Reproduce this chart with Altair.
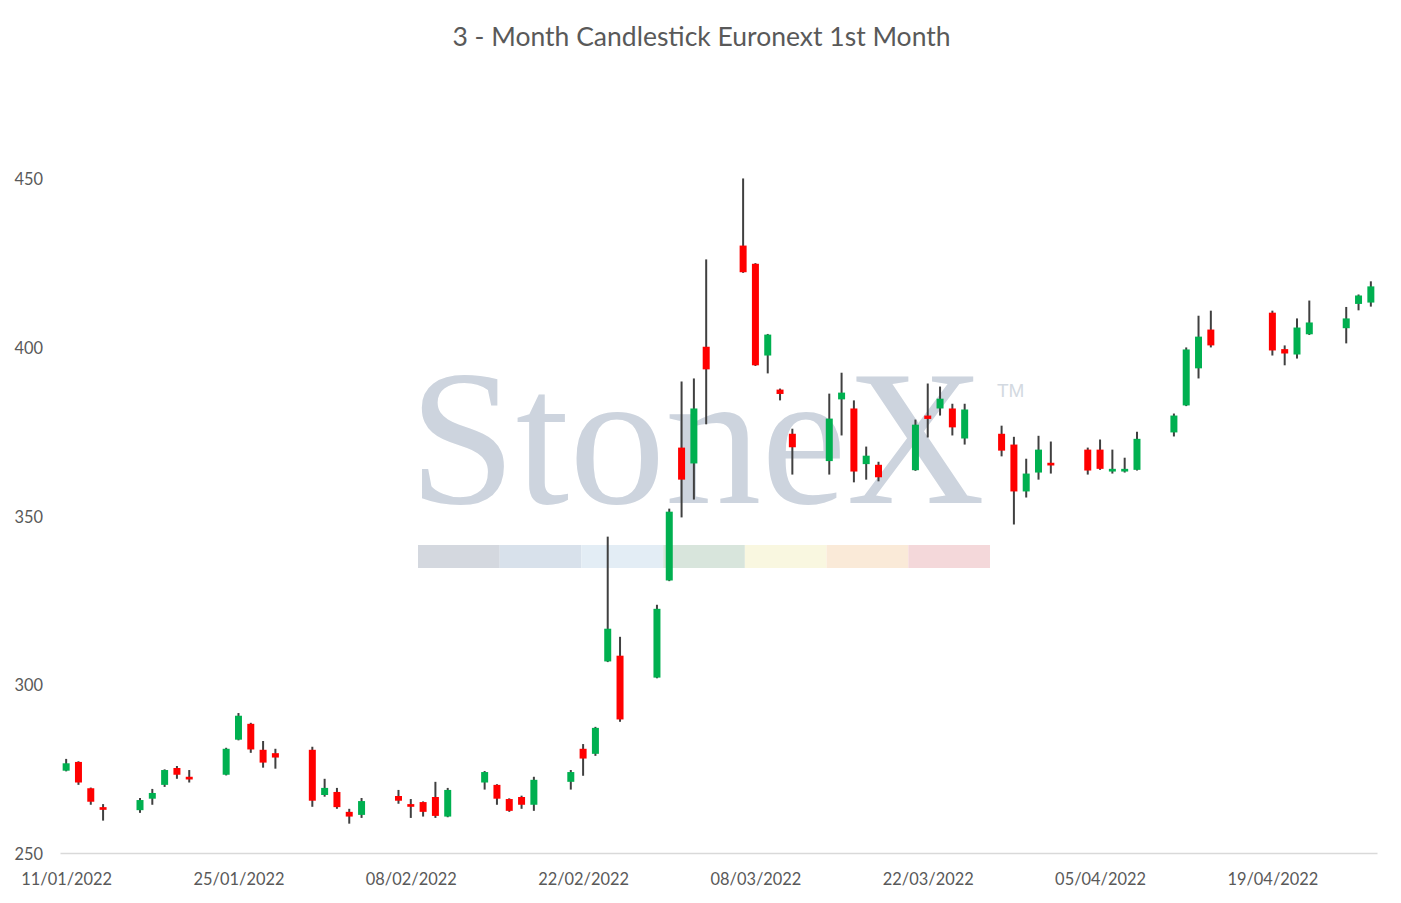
import altair as alt
import pandas as pd

# ---- data ----
dates = [
    "2022-01-11", "2022-01-12", "2022-01-13", "2022-01-14",
    "2022-01-17", "2022-01-18", "2022-01-19", "2022-01-20", "2022-01-21",
    "2022-01-24", "2022-01-25", "2022-01-26", "2022-01-27", "2022-01-28",
    "2022-01-31", "2022-02-01", "2022-02-02", "2022-02-03", "2022-02-04",
    "2022-02-07", "2022-02-08", "2022-02-09", "2022-02-10", "2022-02-11",
    "2022-02-14", "2022-02-15", "2022-02-16", "2022-02-17", "2022-02-18",
    "2022-02-21", "2022-02-22", "2022-02-23", "2022-02-24", "2022-02-25",
    "2022-02-28", "2022-03-01", "2022-03-02", "2022-03-03", "2022-03-04",
    "2022-03-07", "2022-03-08", "2022-03-09", "2022-03-10", "2022-03-11",
    "2022-03-14", "2022-03-15", "2022-03-16", "2022-03-17", "2022-03-18",
    "2022-03-21", "2022-03-22", "2022-03-23", "2022-03-24", "2022-03-25",
    "2022-03-28", "2022-03-29", "2022-03-30", "2022-03-31", "2022-04-01",
    "2022-04-04", "2022-04-05", "2022-04-06", "2022-04-07", "2022-04-08",
    "2022-04-11", "2022-04-12", "2022-04-13", "2022-04-14",
    "2022-04-19", "2022-04-20", "2022-04-21", "2022-04-22",
    "2022-04-25", "2022-04-26", "2022-04-27",
]
open_ = [
    274.4, 277.0, 269.2, 263.6,
    262.7, 266.1, 270.2, 275.2, 272.6,
    273.2, 283.6, 288.3, 280.6, 279.6,
    280.6, 267.2, 268.1, 262.2, 261.3,
    266.9, 264.5, 265.1, 266.6, 260.8,
    270.9, 270.2, 266.0, 266.6, 264.3,
    271.1, 280.9, 279.4, 306.8, 308.5,
    302.0, 330.8, 370.2, 365.5, 400.1,
    430.1, 424.7, 397.5, 387.4, 374.3,
    366.2, 384.5, 381.8, 365.3, 365.1,
    363.5, 379.7, 381.8, 381.8, 372.9,
    374.3, 371.1, 357.2, 362.8, 365.7,
    369.6, 369.6, 363.1, 363.1, 363.6,
    374.7, 382.7, 393.7, 405.2,
    410.2, 399.4, 397.8, 403.8,
    405.6, 412.8, 413.2,
]
high = [
    277.9, 277.2, 269.4, 264.5,
    266.3, 269.0, 274.8, 275.8, 274.6,
    281.2, 291.5, 288.6, 283.2, 280.9,
    281.5, 272.0, 269.3, 263.1, 266.3,
    268.7, 266.0, 265.3, 271.1, 269.3,
    274.3, 270.4, 266.2, 267.0, 272.6,
    274.6, 282.3, 287.4, 343.8, 314.1,
    323.6, 352.1, 389.8, 390.7, 426.0,
    450.0, 424.9, 403.9, 387.7, 375.8,
    386.2, 392.4, 384.2, 370.5, 366.0,
    378.5, 389.2, 388.3, 383.2, 383.2,
    376.7, 373.4, 366.9, 373.7, 372.0,
    370.2, 372.6, 369.6, 367.2, 374.9,
    380.3, 399.9, 409.3, 410.8,
    410.8, 400.5, 408.5, 413.8,
    411.9, 415.6, 419.5,
]
low = [
    274.2, 270.2, 264.3, 259.6,
    261.9, 264.3, 269.6, 272.0, 270.9,
    273.0, 283.4, 279.7, 275.3, 275.0,
    263.7, 266.7, 263.1, 258.7, 260.4,
    264.6, 260.4, 260.8, 260.4, 260.6,
    268.8, 264.3, 262.2, 263.1, 262.5,
    268.8, 272.9, 278.8, 306.6, 288.9,
    301.8, 330.6, 349.5, 354.8, 377.1,
    422.0, 394.4, 392.2, 384.2, 362.2,
    362.2, 373.8, 359.9, 360.7, 360.2,
    363.3, 373.2, 379.7, 373.8, 371.1,
    367.6, 347.4, 355.4, 360.7, 362.5,
    362.2, 363.6, 362.5, 362.8, 363.4,
    373.5, 382.5, 390.7, 399.9,
    397.5, 394.6, 396.6, 403.6,
    401.1, 410.9, 412.0,
]
close = [
    276.6, 270.9, 265.2, 262.8,
    265.7, 267.8, 274.6, 273.2, 271.8,
    280.9, 290.7, 280.7, 276.8, 278.3,
    265.5, 269.3, 263.6, 260.8, 265.4,
    265.5, 263.7, 262.2, 261.0, 268.7,
    274.0, 266.1, 262.5, 264.3, 271.7,
    274.0, 278.0, 287.1, 316.5, 289.6,
    322.4, 351.2, 360.7, 381.8, 393.4,
    422.2, 394.6, 403.7, 386.1, 370.3,
    378.8, 386.5, 363.1, 367.8, 361.4,
    377.0, 378.7, 384.7, 376.2, 381.5,
    369.3, 357.2, 362.5, 369.6, 364.9,
    363.4, 363.9, 363.9, 363.9, 372.8,
    379.7, 399.3, 403.1, 400.5,
    399.0, 398.1, 405.8, 407.3,
    408.5, 415.3, 418.0,
]

x_tick_dates = ["2022-01-11", "2022-01-25", "2022-02-08", "2022-02-22",
                "2022-03-08", "2022-03-22", "2022-04-05", "2022-04-19"]
y_ticks = [250, 300, 350, 400, 450]
title_text = "3 - Month Candlestick Euronext 1st Month"

watermark_colors = ["#d2d6dd", "#d6dfea", "#e1ecf4", "#d6e4da",
                    "#f9f7de", "#fae9d6", "#f3d6d8"]

# ---- build table ----
def ms(s):
    return int(pd.Timestamp(s, tz="UTC").value // 10**6)

df = pd.DataFrame({
    "t": [ms(d) for d in dates],
    "open": open_, "high": high, "low": low, "close": close,
})

x_dom = [ms("2022-01-10 12:00"), ms("2022-04-27 12:00")]
x_vals = [ms(d) for d in x_tick_dates]

W, H = 1317, 742
GREY = "#595959"
FONT = "Lato"

x_enc = alt.X(
    "t:T",
    scale=alt.Scale(type="utc", domain=x_dom, nice=False, padding=0),
    axis=alt.Axis(
        values=x_vals, title=None, grid=False, ticks=False, tickSize=0,
        domainColor="#d9d9d9", domainWidth=1.4,
        labelExpr="utcFormat(datum.value, '%d/%m/%Y')",
        labelFont=FONT, labelFontSize=16.4, labelColor=GREY, labelPadding=18,
        labelFlush=False, labelOverlap=False,
    ),
)
y_axis = alt.Axis(
    values=y_ticks, title=None, grid=False, ticks=False, tickSize=0, domain=False,
    labelFont=FONT, labelFontSize=16.4, labelColor=GREY,
    labelAlign="left", labelPadding=46, labelOffset=1.5,
)
y_scale = alt.Scale(domain=[250, 470], nice=False, zero=False, padding=0)

base = alt.Chart(df).transform_calculate(
    dir="datum.close >= datum.open ? 'up' : 'down'"
)

wicks = base.mark_rule(color="#404040", strokeWidth=2).encode(
    x=x_enc,
    y=alt.Y("low:Q", scale=y_scale, axis=y_axis),
    y2="high:Q",
)
bodies = base.mark_bar(size=7).encode(
    x=x_enc,
    y=alt.Y("open:Q", scale=y_scale, axis=y_axis),
    y2="close:Q",
    color=alt.Color("dir:N", scale=alt.Scale(domain=["up", "down"],
                                             range=["#00b050", "#ff0000"]),
                    legend=None),
)

# ---- StoneX watermark (decoration, behind the candles) ----
one = pd.DataFrame({"k": [0]})
wm_layers = []
seg_w = (930 - 358) / len(watermark_colors)
for i, c in enumerate(watermark_colors):
    wm_layers.append(
        alt.Chart(one).mark_rect(color=c, opacity=0.95).encode(
            x=alt.value(358 + i * seg_w), x2=alt.value(358 + (i + 1) * seg_w),
            y=alt.value(434), y2=alt.value(457),
        )
    )
wm_layers.append(
    alt.Chart(one).mark_text(
        text="StoneX", font="Liberation Serif", fontSize=192, color="#cdd4de",
        align="left", baseline="alphabetic",
    ).encode(x=alt.value(349), y=alt.value(392))
)
wm_layers.append(
    alt.Chart(one).mark_text(
        text="TM", font="Liberation Sans", fontSize=19, color="#d3d9e1",
        align="left", baseline="alphabetic",
    ).encode(x=alt.value(937), y=alt.value(286))
)

chart = alt.layer(*wm_layers, wicks, bodies).properties(
    width=W, height=H,
    background="white",
    title=alt.TitleParams(
        text=title_text, font=FONT, fontSize=26.5, fontWeight="normal",
        color=GREY, anchor="middle", frame="group", offset=60, dx=-17,
    ),
    autosize=alt.AutoSizeParams(type="none"),
    padding={"left": 52, "top": 103, "right": 16, "bottom": 42},
).configure_view(stroke=None)

chart.save("out.html", embed_options={"renderer": "svg", "actions": False})
